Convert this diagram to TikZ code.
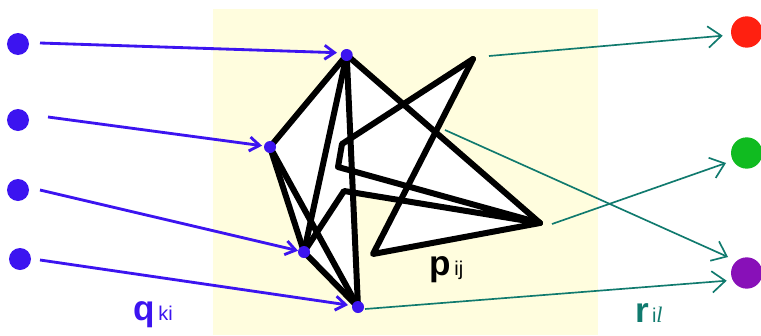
\documentclass[tikz,border=0pt]{standalone}
\usepackage{fontspec}
\setmainfont{Liberation Sans}
\newfontfamily\serifit{Liberation Serif}
\usetikzlibrary{arrows.meta}
\definecolor{bgyellow}{RGB}{255,253,222}
\definecolor{dotblue}{RGB}{60,20,240}
\definecolor{tealc}{RGB}{16,122,110}
\definecolor{dotred}{RGB}{255,32,16}
\definecolor{dotgreen}{RGB}{16,187,32}
\definecolor{dotpurple}{RGB}{136,16,184}
\begin{document}
\begin{tikzpicture}[x=0.03cm,y=-0.03cm,
  bigdot/.style={circle,fill=dotblue,inner sep=0pt,minimum size=0.66cm},
  smalldot/.style={circle,fill=dotblue,inner sep=0pt,minimum size=0.36cm},
  outdot/.style={circle,inner sep=0pt,minimum size=0.94cm},
  edgeline/.style={line width=0.18cm,line join=round,line cap=round},
  barrow/.style={draw=dotblue,line width=0.085cm,-{Straight Barb[length=0.3cm,width=0.42cm]}},
  tarrow/.style={draw=tealc,line width=0.05cm,-{Straight Barb[length=0.4cm,width=0.64cm]}},
  lab/.style={anchor=base west,inner sep=0pt,outer sep=0pt}
  ]
\useasboundingbox (0,0) rectangle (761,335);
\fill[white] (0,0) rectangle (761,335);
\fill[bgyellow] (213,9) rectangle (598,335);
% key points of the black figure
\coordinate (A) at (346.7,55);
\coordinate (B) at (270,147);
\coordinate (C) at (304,252);
\coordinate (D) at (358,307);
\coordinate (T) at (473,59);
\coordinate (R) at (540,223);
\coordinate (BL) at (373,254);
\coordinate (N1) at (342,144);
\coordinate (Nm) at (338,167);
\coordinate (N3) at (344,191);
\coordinate (K1) at (403,104.4);
\coordinate (K2) at (435.4,132.4);
% white interior
\fill[white] (A) -- (B) -- (C) -- (D) -- cycle;
\fill[white] (A) -- (R) -- (N3) -- cycle;
\fill[white] (K1) -- (T) -- (K2) -- cycle;
\fill[white] (K2) -- (BL) -- (R) -- cycle;
% black lines
\draw[edgeline] (T) -- (N1) -- (Nm) -- (R) -- (N3) -- (C);
\draw[edgeline] (T) -- (BL) -- (R);
\draw[edgeline] (A) -- (R);
\draw[edgeline] (A) -- (B) -- (C) -- (D) -- cycle;
\draw[edgeline] (B) -- (D);
\draw[edgeline] (A) -- (C);
% dots
\node[smalldot] (a) at (A) {};
\node[smalldot] (b) at (B) {};
\node[smalldot] (c) at (C) {};
\node[smalldot] (d) at (D) {};
\node[bigdot] (l1) at (18,44) {};
\node[bigdot] (l2) at (18,120) {};
\node[bigdot] (l3) at (18,190) {};
\node[bigdot] (l4) at (20,259) {};
\node[outdot,fill=dotred] (red) at (746.7,32) {};
\node[outdot,fill=dotgreen] (green) at (746.7,153) {};
\node[outdot,fill=dotpurple] (purple) at (746.7,273) {};
% blue arrows
\coordinate (s1) at (40,43);
\coordinate (s2) at (48,117);
\coordinate (s3) at (40,190);
\coordinate (s4) at (40,260);
\coordinate (e1) at (337,52.7);
\coordinate (e2) at (262,145.7);
\coordinate (e3) at (298,250.7);
\coordinate (e4) at (348,305);
\draw[barrow] (s1) -- (e1);
\draw[barrow] (s2) -- (e2);
\draw[barrow] (s3) -- (e3);
\draw[barrow] (s4) -- (e4);
% teal arrows
\coordinate (u1) at (489,56);
\coordinate (u2) at (445,130);
\coordinate (u3) at (552,224);
\coordinate (u4) at (365,309);
\coordinate (v1) at (722.7,35.7);
\coordinate (v2) at (728,257);
\coordinate (v3) at (726,163);
\coordinate (v4) at (726.7,280.7);
\draw[tarrow] (u1) -- (v1);
\draw[tarrow] (u2) -- (v2);
\draw[tarrow] (u3) -- (v3);
\draw[tarrow] (u4) -- (v4);
% labels
\node[lab,text=dotblue] (qlab) at (133.7,320.5) {\fontsize{30}{32}\selectfont\bfseries q\fontsize{17}{18}\selectfont\mdseries\,ki};
\node[lab,text=black] (plab) at (429.7,275) {\fontsize{30}{32}\selectfont\bfseries p\fontsize{17}{18}\selectfont\mdseries\,ij};
\node[lab,text=tealc] (rlab) at (635,322) {\fontsize{30}{32}\selectfont\bfseries r\fontsize{17}{18}\selectfont\mdseries\,i{\serifit\itshape\fontsize{19}{20}\selectfont l}};
\end{tikzpicture}
\end{document}
